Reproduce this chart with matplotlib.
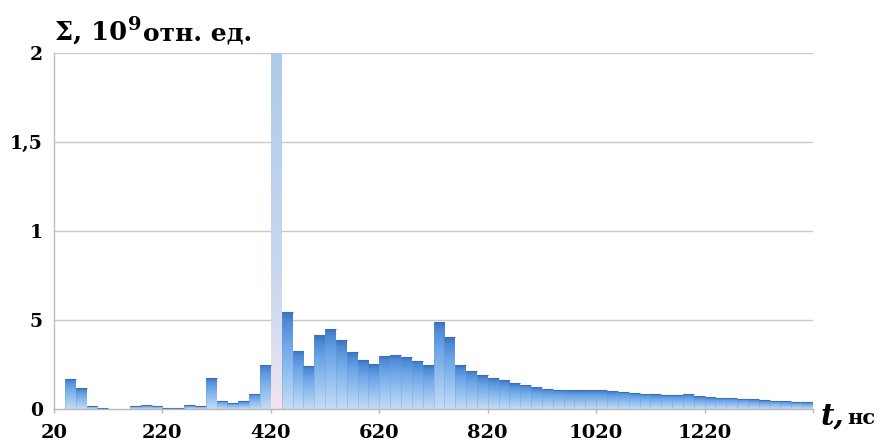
import numpy as np
import matplotlib
matplotlib.use("Agg")
import matplotlib.pyplot as plt
from matplotlib.colors import LinearSegmentedColormap

# ---- data ----
t_start = [20, 40, 60, 80, 100, 120, 140, 160, 180, 200,
           220, 240, 260, 280, 300, 320, 340, 360, 380, 400,
           420, 440, 460, 480, 500, 520, 540, 560, 580, 600,
           620, 640, 660, 680, 700, 720, 740, 760, 780, 800,
           820, 840, 860, 880, 900, 920, 940, 960, 980, 1000,
           1020, 1040, 1060, 1080, 1100, 1120, 1140, 1160, 1180, 1200,
           1220, 1240, 1260, 1280, 1300, 1320, 1340, 1360, 1380, 1400]
sigma = [0.0, 0.17, 0.117, 0.017, 0.006, 0.0, 0.0, 0.017, 0.02, 0.017,
         0.004, 0.005, 0.02, 0.017, 0.173, 0.045, 0.034, 0.043, 0.086, 0.25,
         2.6, 0.545, 0.327, 0.242, 0.414, 0.45, 0.387, 0.32, 0.274, 0.251,
         0.30, 0.306, 0.293, 0.272, 0.246, 0.49, 0.402, 0.247, 0.215, 0.19,
         0.172, 0.161, 0.146, 0.135, 0.123, 0.114, 0.108, 0.106, 0.106, 0.104,
         0.104, 0.099, 0.096, 0.092, 0.086, 0.084, 0.081, 0.079, 0.083, 0.073,
         0.067, 0.064, 0.062, 0.058, 0.055, 0.05, 0.047, 0.043, 0.04, 0.038]
bin_width = 20
x_ticks = [20, 220, 420, 620, 820, 1020, 1220, 1420]
x_ticklabels = ["20", "220", "420", "620", "820", "1020", "1220", ""]
y_ticks = [0, 0.5, 1, 1.5, 2]
y_ticklabels = ["0", "5", "1", "1,5", "2"]
highlight_bin = 420

W, H = 880, 442
fig = plt.figure(figsize=(W / 100, H / 100), dpi=100)
ax = fig.add_axes([54 / W, (H - 409) / H, (813 - 54) / W, (409 - 53) / H])

cmap_main = LinearSegmentedColormap.from_list(
    "main", [(0.0, "#c6ddf5"), (0.35, "#96c2f0"), (0.7, "#6aa4e6"),
             (0.9, "#4d8ad6"), (1.0, "#3a70bc")])
cmap_hi = LinearSegmentedColormap.from_list(
    "hi", [(0.0, "#f4e3ee"), (0.12, "#e2e0f0"), (0.4, "#c6d8ee"),
           (1.0, "#aecbea")])

YMAX = 2.0
bars = ax.bar(t_start, sigma, width=bin_width, align="edge",
              facecolor="none", edgecolor="none", zorder=3)
grad = np.linspace(0, 1, 256).reshape(-1, 1)
for rect, t, v in zip(bars.patches, t_start, sigma):
    if v <= 0:
        continue
    top = min(v, YMAX)
    cm = cmap_hi if t == highlight_bin else cmap_main
    im = ax.imshow(grad, extent=[rect.get_x(), rect.get_x() + rect.get_width(), 0, top],
                   origin="lower", aspect="auto", cmap=cm, zorder=2,
                   interpolation="bilinear")
    im.set_clip_path(rect)
    if t != highlight_bin:
        ax.plot([rect.get_x(), rect.get_x() + rect.get_width()], [top, top],
                color="#3f6fae", lw=0.8, zorder=4, solid_capstyle="butt")
        ax.plot([rect.get_x(), rect.get_x()], [0, top], color="#6f98c8",
                lw=0.4, zorder=4, alpha=0.6)

ax.set_xlim(20, 1420)
ax.set_ylim(0, YMAX)

# grid & spines
for yv in y_ticks[1:]:
    ax.axhline(yv, color="#c8c8c8", lw=1.0, zorder=0)
for s in ["top", "right"]:
    ax.spines[s].set_visible(False)
ax.spines["left"].set_color("#c0c0c0")
ax.spines["bottom"].set_color("#b8b8b8")
ax.spines["left"].set_linewidth(1.0)
ax.spines["bottom"].set_linewidth(1.0)
ax.spines["left"].set_zorder(5)
ax.spines["bottom"].set_zorder(5)

font = dict(family="DejaVu Serif", weight="bold")
ax.set_xticks(x_ticks)
ax.set_xticklabels(x_ticklabels, fontsize=14, **font)
ax.set_yticks(y_ticks)
ax.set_yticklabels(y_ticklabels, fontsize=13.5, **font)
ax.tick_params(axis="x", length=3, width=1, color="#b8b8b8", pad=7.5)
ax.tick_params(axis="y", length=0, pad=8)


def px(x, y):
    return x / W, 1 - y / H


fig.text(*px(55, 40), "Σ, 10", fontsize=18.5, va="baseline", ha="left", **font)
fig.text(*px(128, 30), "9", fontsize=14, va="baseline", ha="left", **font)
fig.text(*px(143, 40), "отн. ед.", fontsize=18, va="baseline", ha="left", **font)
fig.text(*px(821, 424), "t,", fontsize=21, va="baseline", ha="left",
         family="DejaVu Serif", weight="bold", style="italic")
fig.text(*px(847, 424), "нс", fontsize=15, va="baseline", ha="left", **font)

fig.savefig("out.png", dpi=100)
